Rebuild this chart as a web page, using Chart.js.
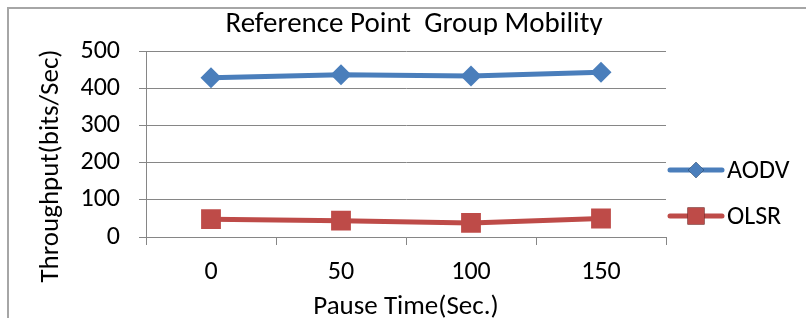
<!DOCTYPE html>
<html>
<head>
<meta charset="utf-8">
<script src="https://cdn.jsdelivr.net/npm/chart.js@4.4.1/dist/chart.umd.min.js"></script>
<style>
  html, body { margin: 0; padding: 0; background: #fff; }
  #wrap { width: 806px; height: 318px; position: relative; }
</style>
</head>
<body>
<div id="wrap"><canvas id="lineChart" width="806" height="318"></canvas></div>
<script>
var pause_times = ['0', '50', '100', '150'];
var aodv_values = [430, 438, 435, 445];
var olsr_values = [48, 44, 38, 50];
var series_names = ['AODV', 'OLSR'];
var y_ticks = [0, 100, 200, 300, 400, 500];

var chart_title = 'Reference Point  Group Mobility';
var x_title = 'Pause Time(Sec.)';
var y_title = 'Throughput(bits/Sec)';

var fontFamily = "Carlito, 'Liberation Sans', Arial, sans-serif";
var axisGray = '#868686';

// outer frame, like the pasted Excel chart
const framePlugin = {
    id: 'frame',
    beforeDraw(chart) {
        const ctx = chart.ctx;
        ctx.save();
        ctx.strokeStyle = '#a6a6a6';
        ctx.lineWidth = 2;
        ctx.beginPath();
        ctx.moveTo(8, 318);
        ctx.lineTo(8, 8);
        ctx.lineTo(806, 8);
        ctx.stroke();
        ctx.restore();
    },
    afterDraw(chart) {
        // the title is cut off at its bottom in the original
        const ctx = chart.ctx;
        ctx.save();
        ctx.fillStyle = '#fff';
        ctx.fillRect(200, 35, 430, 8);
        ctx.restore();
    }
};

// y title placed a bit lower than the scale centre, as in the picture
const yTitlePlugin = {
    id: 'yTitle',
    afterDraw(chart) {
        const ctx = chart.ctx;
        ctx.save();
        ctx.translate(51, 166);
        ctx.rotate(-Math.PI / 2);
        ctx.font = '27px ' + fontFamily;
        ctx.fillStyle = '#000';
        ctx.textAlign = 'center';
        ctx.textBaseline = 'middle';
        ctx.fillText(y_title, 0, 0);
        ctx.restore();
    }
};

// legend: line + marker + name, drawn from the dataset styles
const legendPlugin = {
    id: 'sideLegend',
    afterDraw(chart) {
        const ctx = chart.ctx;
        const rows = [170, 216];
        chart.data.datasets.forEach((ds, i) => {
            const y = rows[i];
            ctx.save();
            ctx.strokeStyle = ds.borderColor;
            ctx.lineWidth = 5;
            ctx.lineCap = 'round';
            ctx.beginPath();
            ctx.moveTo(670, y);
            ctx.lineTo(722, y);
            ctx.stroke();
            Chart.helpers.drawPoint(ctx, {
                pointStyle: ds.pointStyle,
                radius: i == 0 ? 8 : 12,
                borderWidth: 0
            }, 696, y);
            ctx.fillStyle = ds.pointBackgroundColor;
            ctx.fill();
            ctx.fillStyle = '#000';
            ctx.font = '26px ' + fontFamily;
            ctx.textAlign = 'left';
            ctx.textBaseline = 'middle';
            ctx.fillText(ds.label, 727, y + 1);
            ctx.restore();
        });
    }
};

const ctx = document.getElementById('lineChart').getContext('2d');
new Chart(ctx, {
    type: 'line',
    data: {
        labels: pause_times,
        datasets: [
            {
                label: series_names[0], data: aodv_values,
                borderColor: '#4a7ebb', backgroundColor: '#4a7ebb',
                pointBackgroundColor: '#4a7ebb', pointBorderColor: '#4a7ebb',
                borderWidth: 5, pointStyle: 'rectRot', pointRadius: 10.5, pointBorderWidth: 0,
                tension: 0
            },
            {
                label: series_names[1], data: olsr_values,
                borderColor: '#be4b48', backgroundColor: '#be4b48',
                pointBackgroundColor: '#be4b48', pointBorderColor: '#be4b48',
                borderWidth: 5, pointStyle: 'rect', pointRadius: 14, pointBorderWidth: 0,
                tension: 0
            }
        ]
    },
    options: {
        responsive: false,
        animation: false,
        layout: { padding: { left: 22, right: 0, top: 0, bottom: 0 } },
        plugins: {
            legend: { display: false },
            tooltip: { enabled: false },
            title: {
                display: true,
                text: chart_title,
                color: '#000',
                font: { family: fontFamily, size: 29, weight: 'normal' },
                padding: { top: 7, bottom: 10 }
            }
        },
        scales: {
            x: {
                type: 'category',
                offset: true,
                afterFit(scale) { scale.height = 81; },
                grid: { offset: true, drawOnChartArea: false, drawTicks: true, tickLength: 8, color: axisGray },
                border: { color: axisGray, width: 1 },
                ticks: { color: '#000', font: { family: fontFamily, size: 26 }, padding: 12, maxRotation: 0 },
                title: {
                    display: true, text: x_title, color: '#000',
                    font: { family: fontFamily, size: 27 },
                    padding: { top: 0, bottom: -5 }
                }
            },
            y: {
                min: 0,
                max: 500,
                afterFit(scale) { scale.width = 124; },
                afterBuildTicks(scale) { scale.ticks = y_ticks.map(v => ({ value: v })); },
                grid: { color: axisGray, tickLength: 7 },
                border: { color: axisGray, width: 1 },
                ticks: { color: '#000', font: { family: fontFamily, size: 26 }, padding: 19 }
            },
            // empty right-hand axis that only keeps room for the legend
            legendSpace: {
                position: 'right',
                afterFit(scale) { scale.width = 140; },
                grid: { display: false },
                border: { display: false },
                ticks: { display: false }
            }
        }
    },
    plugins: [framePlugin, yTitlePlugin, legendPlugin]
});
</script>
</body>
</html>
